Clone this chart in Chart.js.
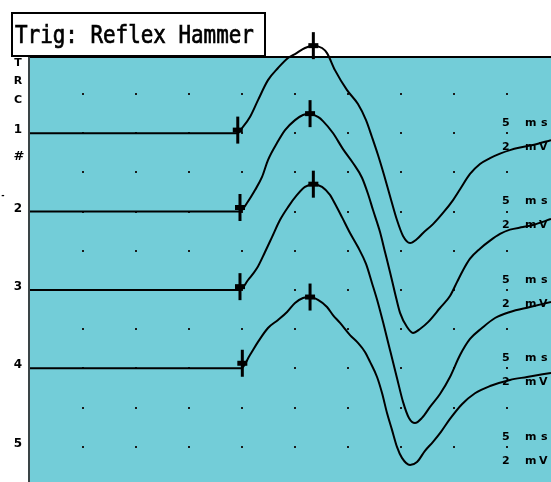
<!DOCTYPE html>
<html>
<head>
<meta charset="utf-8">
<script src="https://cdn.jsdelivr.net/npm/chart.js@4/dist/chart.umd.min.js"></script>
<style>
  html, body { margin: 0; padding: 0; background: #ffffff; }
  #wrap { position: relative; width: 551px; height: 482px; }
</style>
</head>
<body>
<div id="wrap"><canvas id="c"></canvas></div>
<script>
// Screen header and channel annotations
const titleText = 'Trig: Reflex Hammer';
const channelLabels = ['1', '2', '3', '4', '5'];
const sweepLabel = ['5', 'ms'];
const gainLabel = ['2', 'mV'];

// Each channel sits on its own baseline, 2 divisions (4 mV) apart
const channelBaselineMv = [-4, -8, -12, -16, -20];

// Channel 1 response (time in ms, amplitude in mV relative to its baseline)
const ch1Ms = [0, 19.53, 20.09, 20.75, 21.51, 22.45, 23.40, 24.34, 25.00, 25.94, 26.73, 27.55, 28.02, 28.77,
  29.91, 30.94, 31.70, 32.26, 32.83, 33.40, 33.96, 34.62, 35.19, 35.85, 36.51, 37.08, 38.02, 38.96,
  39.91, 40.57, 41.51, 42.45, 43.40, 44.34, 45.28, 46.23, 47.45, 49.15];
const ch1Mv = [0, 0, 0.32, 0.83, 1.69, 2.71, 3.33, 3.84, 4.04, 4.35, 4.47, 4.35, 4.09, 3.22,
  2.20, 1.49, 0.67, -0.19, -1.11, -2.13, -3.20, -4.43, -5.24, -5.60, -5.40, -5.09, -4.64, -4.07,
  -3.41, -2.86, -2.08, -1.57, -1.27, -1.04, -0.86, -0.73, -0.60, -0.35];

// Channel 2 response
const ch2Ms = [0, 19.81, 20.47, 21.23, 21.89, 22.45, 23.30, 24.06, 25.00, 25.75, 26.42, 27.17, 27.64, 28.58,
  29.53, 30.47, 31.32, 31.89, 32.36, 33.02, 33.49, 33.96, 34.43, 34.91, 35.57, 36.13, 36.79, 37.55,
  38.68, 39.62, 40.28, 40.85, 41.51, 42.45, 43.40, 44.34, 45.28, 46.51, 47.45, 49.15];
const ch2Mv = [0, 0, 0.44, 1.10, 1.77, 2.63, 3.50, 4.16, 4.67, 4.93, 5.00, 4.83, 4.62, 4.01,
  3.19, 2.48, 1.73, 0.90, 0.08, -1.04, -2.06, -3.08, -4.15, -5.17, -5.89, -6.19, -5.99, -5.64,
  -4.92, -4.31, -3.60, -2.99, -2.40, -1.89, -1.48, -1.14, -0.92, -0.79, -0.68, -0.38];

// Channel 3 response
const ch3Ms = [0, 19.81, 20.57, 21.42, 22.17, 22.83, 23.58, 24.34, 25.19, 25.94, 26.73, 27.55, 28.30, 28.58,
  29.43, 30.19, 30.94, 31.70, 32.26, 32.83, 33.40, 33.96, 34.62, 35.19, 35.75, 36.32, 36.98, 37.74,
  38.68, 39.62, 40.57, 41.51, 42.64, 43.87, 45.28, 47.17, 49.15];
const ch3Mv = [0, 0, 0.51, 1.12, 1.94, 2.70, 3.57, 4.23, 4.85, 5.26, 5.40, 5.26, 4.85, 4.59,
  3.72, 2.91, 2.19, 1.33, 0.36, -0.66, -1.84, -3.06, -4.49, -5.71, -6.53, -6.79, -6.53, -5.97,
  -5.31, -4.44, -3.32, -2.50, -1.94, -1.43, -1.12, -0.87, -0.61];

// Channel 4 response
const ch4Ms = [0, 19.91, 20.75, 21.51, 22.45, 23.40, 24.25, 25.00, 25.75, 26.42, 27.17, 28.02, 28.58, 29.25,
  30.19, 30.94, 31.60, 32.08, 32.74, 33.21, 33.68, 34.15, 34.62, 35.09, 35.85, 36.51, 37.26, 38.02,
  38.77, 39.62, 40.75, 41.98, 43.40, 45.28, 46.89, 49.15];
const ch4Mv = [0, 0, 0.68, 1.35, 2.06, 2.47, 2.88, 3.34, 3.59, 3.64, 3.49, 3.13, 2.72, 2.32,
  1.70, 1.30, 0.84, 0.33, -0.44, -1.26, -2.28, -3.14, -4.01, -4.57, -4.93, -4.78, -4.21, -3.75,
  -3.24, -2.58, -1.83, -1.27, -0.90, -0.59, -0.44, -0.23];

// Cursor positions: response onset and peak (relative mV)
const onsetMs = [19.60, 19.81, 19.81, 20.03];
const onsetMv = [0.16, 0.21, 0.17, 0.26];
const peakMs = [26.73, 26.42, 26.73, 26.42];
const peakMv = [4.47, 5.00, 5.40, 3.64];

const channelMs = [ch1Ms, ch2Ms, ch3Ms, ch4Ms];
const channelMv = [ch1Mv, ch2Mv, ch3Mv, ch4Mv];

// Screen extent: 5 ms and 2 mV per division
const X_MIN = -2.83, X_MAX = 49.15;
const Y_MIN = -21.8, Y_MAX = 2.8;
const SCREEN_BG = '#73cdd8';

const traceSets = channelMs.map((ms, i) => ({
  type: 'line',
  data: ms.map((t, k) => ({ x: t, y: channelBaselineMv[i] + channelMv[i][k] })),
  borderColor: '#000000',
  borderWidth: 2,
  pointRadius: 0,
  cubicInterpolationMode: 'monotone',
  fill: false,
  clip: false
}));

const cursorPoints = [];
for (let i = 0; i < onsetMs.length; i++) {
  cursorPoints.push({ x: onsetMs[i], y: channelBaselineMv[i] + onsetMv[i] });
  cursorPoints.push({ x: peakMs[i], y: channelBaselineMv[i] + peakMv[i] });
}

const cursorStems = {
  type: 'scatter',
  data: cursorPoints,
  showLine: false,
  pointStyle: 'line',
  pointRotation: 90,
  pointRadius: 13.5,
  pointBorderWidth: 3,
  pointBorderColor: '#000000',
  pointBackgroundColor: '#000000',
  clip: false
};
const cursorBars = {
  type: 'scatter',
  data: cursorPoints,
  showLine: false,
  pointStyle: 'line',
  pointRotation: 0,
  pointRadius: 5,
  pointBorderWidth: 5,
  pointBorderColor: '#000000',
  pointBackgroundColor: '#000000',
  clip: false
};

const screenPlugin = {
  id: 'screen',
  beforeDraw(chart) {
    const ctx = chart.ctx;
    const xs = chart.scales.x, ys = chart.scales.y;
    const left = Math.round(xs.getPixelForValue(0)) - 1;
    const top = Math.round(ys.getPixelForValue(0)) + 2;
    const W = chart.width, H = chart.height;
    ctx.save();
    ctx.fillStyle = '#ffffff';
    ctx.fillRect(0, 0, W, H);
    ctx.fillStyle = SCREEN_BG;
    ctx.fillRect(left, top, W - left, H - top);

    // graticule dots
    ctx.fillStyle = '#1a1a1a';
    for (let k = 1; k <= 9; k++) {
      for (let j = 1; j <= 10; j++) {
        const px = Math.round(xs.getPixelForValue(5 * k));
        const py = Math.round(ys.getPixelForValue(-2 * j));
        ctx.fillRect(px - 1, py - 1, 2, 2);
      }
    }

    // frame
    ctx.strokeStyle = '#000000';
    ctx.lineWidth = 2;
    ctx.beginPath();
    ctx.moveTo(left, top);
    ctx.lineTo(W, top);
    ctx.stroke();
    ctx.strokeStyle = '#3a4446';
    ctx.beginPath();
    ctx.moveTo(left, top);
    ctx.lineTo(left, H);
    ctx.stroke();

    // left side channel markers
    ctx.fillStyle = '#000000';
    ctx.textAlign = 'center';
    ctx.textBaseline = 'middle';
    ctx.font = 'bold 11px "DejaVu Sans"';
    ctx.fillText('T', 18, 63);
    ctx.fillText('R', 18, 81);
    ctx.fillText('C', 18, 100);
    ctx.font = 'bold 13px "DejaVu Sans"';
    ctx.fillText('#', 19, 157);
    ctx.font = 'bold 8px "DejaVu Sans"';
    ctx.fillText('-', 3, 196);
    ctx.font = 'bold 12px "DejaVu Sans"';
    channelLabels.forEach((lab, i) => {
      const py = ys.getPixelForValue(channelBaselineMv[i]);
      ctx.fillText(lab, 18, py - 3);
    });

    // per-channel sweep and gain settings on the right
    ctx.textAlign = 'left';
    ctx.font = 'bold 11px "DejaVu Sans"';
    channelLabels.forEach((lab, i) => {
      const py = ys.getPixelForValue(channelBaselineMv[i]);
      ctx.fillText(sweepLabel[0], 502, py - 10);
      ctx.fillText(sweepLabel[1][0], 525, py - 10);
      ctx.fillText(sweepLabel[1][1], 541, py - 10);
      ctx.fillText(gainLabel[0], 502, py + 14);
      ctx.fillText(gainLabel[1][0], 525, py + 14);
      ctx.fillText(gainLabel[1][1], 539, py + 14);
    });

    // trigger caption box
    ctx.fillStyle = '#ffffff';
    ctx.fillRect(12, 13, 253, 43);
    ctx.strokeStyle = '#000000';
    ctx.lineWidth = 2;
    ctx.strokeRect(12, 13, 253, 43);
    ctx.fillStyle = '#000000';
    ctx.textBaseline = 'alphabetic';
    ctx.textAlign = 'left';
    ctx.font = '24px "DejaVu Sans Mono"';
    ctx.save();
    ctx.translate(15, 43);
    ctx.scale(0.87, 1);
    ctx.fillText(titleText, 0, 0);
    ctx.lineWidth = 0.7;
    ctx.strokeText(titleText, 0, 0);
    ctx.restore();
    ctx.restore();
  }
};

new Chart(document.getElementById('c'), {
  type: 'line',
  data: { datasets: [...traceSets, cursorStems, cursorBars] },
  options: {
    responsive: true,
    maintainAspectRatio: false,
    animation: false,
    layout: { padding: 0, autoPadding: false },
    plugins: { legend: { display: false }, tooltip: { enabled: false }, title: { display: false } },
    scales: {
      x: { type: 'linear', min: X_MIN, max: X_MAX, display: false },
      y: { type: 'linear', min: Y_MIN, max: Y_MAX, display: false }
    }
  },
  plugins: [screenPlugin]
});
</script>
</body>
</html>
